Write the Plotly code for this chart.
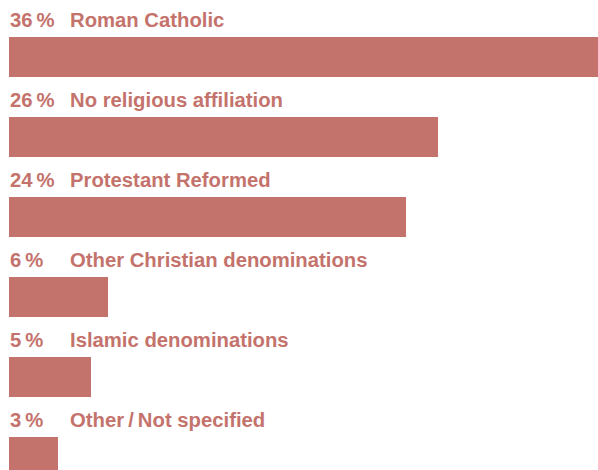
import plotly.graph_objects as go

categories = ["Roman Catholic", "No religious affiliation", "Protestant Reformed",
              "Other Christian denominations", "Islamic denominations",
              "Other\u2009/\u2009Not specified"]
values = [35.8, 26.1, 24.1, 6.0, 5.0, 3.0]
pct_labels = ["36\u2009%", "26\u2009%", "24\u2009%", "6\u2009%", "5\u2009%", "3\u2009%"]

COLOR = "#C4736C"
FONT = dict(family="Liberation Sans, Arial, sans-serif", size=20.3, color=COLOR, weight="bold")

pos = list(range(len(categories)))

fig = go.Figure(go.Bar(
    x=values, y=pos, orientation="h", width=0.5,
    marker=dict(color=COLOR, line=dict(width=0)),
    hoverinfo="skip",
))

annotations = []
for i, (p, c) in enumerate(zip(pct_labels, categories)):
    annotations.append(dict(x=0, y=i, xref="x", yref="y", text=p, showarrow=False,
                            xanchor="left", yanchor="middle", yshift=37, xshift=-1, font=FONT))
    annotations.append(dict(x=0, y=i, xref="x", yref="y", text=c, showarrow=False,
                            xanchor="left", yanchor="middle", yshift=37, xshift=59, font=FONT))

fig.update_layout(
    width=598, height=470, autosize=False,
    margin=dict(l=9, r=0, t=0, b=0, pad=0),
    paper_bgcolor="white", plot_bgcolor="white",
    xaxis=dict(range=[0, 35.8], visible=False, fixedrange=True),
    yaxis=dict(range=[5.1625, -0.7125], visible=False, fixedrange=True),
    showlegend=False,
    annotations=annotations,
    bargap=0,
)

fig.write_html(
    "out.html",
    config={"displayModeBar": False, "responsive": False},
    post_script="document.body.style.margin='0';document.body.style.overflow='hidden';",
)
